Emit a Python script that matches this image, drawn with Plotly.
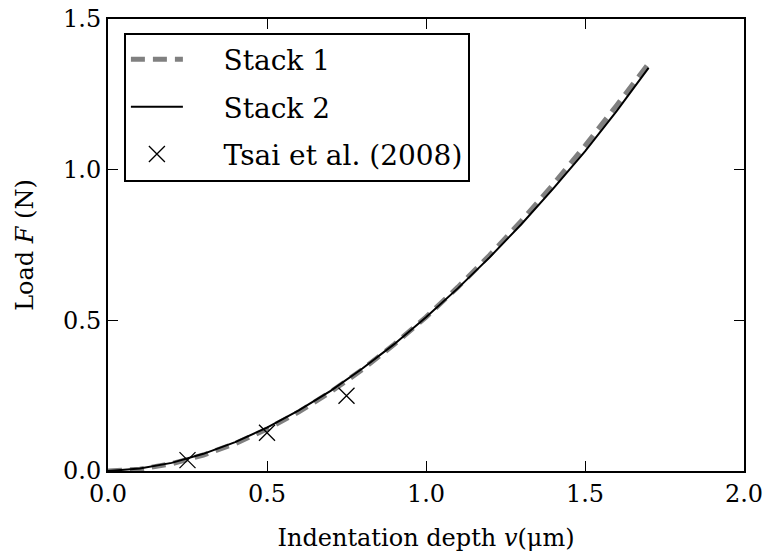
import plotly.graph_objects as go

# Indentation depth v (µm)
depth = [0.0, 0.1, 0.2, 0.3, 0.4, 0.5, 0.6, 0.7, 0.8, 0.9,
         1.0, 1.1, 1.2, 1.3, 1.4, 1.5, 1.6, 1.7]
# Load F (N), stack 1 (dashed grey) and stack 2 (solid black)
stack1_load = [0.0, 0.006, 0.024, 0.053, 0.091, 0.139, 0.196, 0.262, 0.337, 0.420,
               0.511, 0.610, 0.716, 0.830, 0.951, 1.079, 1.214, 1.352]
stack2_load = [0.0, 0.008, 0.027, 0.057, 0.096, 0.144, 0.201, 0.266, 0.340, 0.421,
               0.510, 0.606, 0.709, 0.819, 0.937, 1.061, 1.195, 1.338]
# Tsai et al. (2008) reference points
tsai_depth = [0.25, 0.5, 0.75]
tsai_load = [0.036, 0.127, 0.250]

series_names = ["Stack 1", "Stack 2", "Tsai et al. (2008)"]

FONT = "DejaVu Serif"
FS = 24
PAD = "\u00a0\u00a0\u00a0\u00a0"  # gap between legend sample and label

fig = go.Figure()
fig.add_trace(go.Scatter(
    x=depth, y=stack1_load, mode="lines", name=PAD + series_names[0],
    line=dict(color="#808080", width=5, dash="14px,8px"),
    legendgroup="a"))
fig.add_trace(go.Scatter(
    x=depth, y=stack2_load, mode="lines", name=PAD + series_names[1],
    line=dict(color="black", width=2),
    legendgroup="b"))
fig.add_trace(go.Scatter(
    x=tsai_depth, y=tsai_load, mode="markers", name=PAD + series_names[2],
    marker=dict(symbol="x-thin", size=16, color="black",
                line=dict(color="black", width=1.3)),
    legendgroup="c"))

axis_common = dict(
    showline=True, linecolor="black", linewidth=2, mirror="ticks",
    ticks="inside", ticklen=10, tickwidth=1.2, tickcolor="black",
    showgrid=False, zeroline=False, dtick=0.5, tickformat=".1f",
    tickfont=dict(family=FONT, size=FS, color="black"),
)

fig.update_xaxes(range=[0, 2.0], tick0=0,
                 title=dict(text="Indentation depth <i>v</i>(μm)",
                            font=dict(family=FONT, size=FS, color="black"),
                            standoff=22),
                 **axis_common)
fig.update_yaxes(range=[0, 1.5], tick0=0,
                 title=dict(text="Load <i>F</i> (N)",
                            font=dict(family=FONT, size=FS, color="black"),
                            standoff=23),
                 **axis_common)

fig.update_layout(
    width=766, height=558,
    margin=dict(l=108, r=22, t=19, b=87, autoexpand=False),
    paper_bgcolor="white", plot_bgcolor="white",
    font=dict(family=FONT, size=FS, color="black"),
    legend=dict(
        x=0.025, y=0.97, xanchor="left", yanchor="top",
        bgcolor="white", bordercolor="black", borderwidth=2,
        font=dict(family=FONT, size=28, color="black"),
        tracegroupgap=8, itemwidth=52,
    ),
    showlegend=True,
)

fig.write_html("out.html")
